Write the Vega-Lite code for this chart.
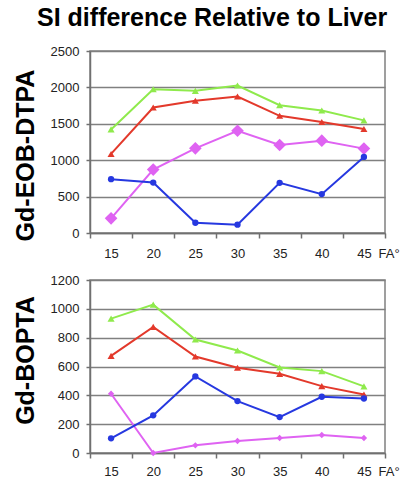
{
  "$schema": "https://vega.github.io/schema/vega-lite/v6.json",
  "background": "white",
  "padding": {"left": 12, "top": 6, "right": 0, "bottom": 0},
  "title": {"text": "SI difference Relative to Liver", "fontSize": 25, "font": "Liberation Sans", "fontWeight": "bold", "color": "#000", "anchor": "middle", "offset": 13, "dx": 6},
  "config": {
    "font": "Liberation Sans",
    "view": {"stroke": "#808080", "strokeWidth": 1.5},
    "axis": {"labelFont": "Liberation Sans", "labelFontSize": 13, "labelColor": "#222", "domainColor": "#707070", "domainWidth": 1.5, "tickColor": "#707070", "tickWidth": 1.5, "gridColor": "#808080", "gridOpacity": 1, "gridWidth": 1.5, "titleFont": "Liberation Sans"},
    "concat": {"spacing": 12}
  },
  "datasets": {
    "eob": [
      {"fa": "15", "series": "Series 1", "value": 1423},
      {"fa": "20", "series": "Series 1", "value": 1975},
      {"fa": "25", "series": "Series 1", "value": 1953},
      {"fa": "30", "series": "Series 1", "value": 2026},
      {"fa": "35", "series": "Series 1", "value": 1756},
      {"fa": "40", "series": "Series 1", "value": 1683},
      {"fa": "45", "series": "Series 1", "value": 1547},
      {"fa": "15", "series": "Series 2", "value": 1086},
      {"fa": "20", "series": "Series 2", "value": 1724},
      {"fa": "25", "series": "Series 2", "value": 1816},
      {"fa": "30", "series": "Series 2", "value": 1875},
      {"fa": "35", "series": "Series 2", "value": 1610},
      {"fa": "40", "series": "Series 2", "value": 1524},
      {"fa": "45", "series": "Series 2", "value": 1428},
      {"fa": "15", "series": "Series 3", "value": 201},
      {"fa": "20", "series": "Series 3", "value": 871},
      {"fa": "25", "series": "Series 3", "value": 1163},
      {"fa": "30", "series": "Series 3", "value": 1405},
      {"fa": "35", "series": "Series 3", "value": 1209},
      {"fa": "40", "series": "Series 3", "value": 1268},
      {"fa": "45", "series": "Series 3", "value": 1159},
      {"fa": "15", "series": "Series 4", "value": 739},
      {"fa": "20", "series": "Series 4", "value": 693},
      {"fa": "25", "series": "Series 4", "value": 141},
      {"fa": "30", "series": "Series 4", "value": 114},
      {"fa": "35", "series": "Series 4", "value": 689},
      {"fa": "40", "series": "Series 4", "value": 534},
      {"fa": "45", "series": "Series 4", "value": 1045}
    ],
    "bopta": [
      {"fa": "15", "series": "Series 1", "value": 932},
      {"fa": "20", "series": "Series 1", "value": 1029},
      {"fa": "25", "series": "Series 1", "value": 787},
      {"fa": "30", "series": "Series 1", "value": 711},
      {"fa": "35", "series": "Series 1", "value": 593},
      {"fa": "40", "series": "Series 1", "value": 568},
      {"fa": "45", "series": "Series 1", "value": 462},
      {"fa": "15", "series": "Series 2", "value": 674},
      {"fa": "20", "series": "Series 2", "value": 875},
      {"fa": "25", "series": "Series 2", "value": 669},
      {"fa": "30", "series": "Series 2", "value": 591},
      {"fa": "35", "series": "Series 2", "value": 549},
      {"fa": "40", "series": "Series 2", "value": 464},
      {"fa": "45", "series": "Series 2", "value": 406},
      {"fa": "15", "series": "Series 3", "value": 411},
      {"fa": "20", "series": "Series 3", "value": 0},
      {"fa": "25", "series": "Series 3", "value": 53},
      {"fa": "30", "series": "Series 3", "value": 83},
      {"fa": "35", "series": "Series 3", "value": 104},
      {"fa": "40", "series": "Series 3", "value": 125},
      {"fa": "45", "series": "Series 3", "value": 104},
      {"fa": "15", "series": "Series 4", "value": 102},
      {"fa": "20", "series": "Series 4", "value": 261},
      {"fa": "25", "series": "Series 4", "value": 531},
      {"fa": "30", "series": "Series 4", "value": 360},
      {"fa": "35", "series": "Series 4", "value": 249},
      {"fa": "40", "series": "Series 4", "value": 390},
      {"fa": "45", "series": "Series 4", "value": 378}
    ]
  },
  "vconcat": [
    {
      "width": 295,
      "height": 182,
      "data": {"name": "eob"},
      "encoding": {
        "x": {"field": "fa", "type": "ordinal", "bandPosition": 0.5,
          "scale": {"type": "band", "paddingInner": 0, "paddingOuter": 0},
          "axis": {"title": "FA°", "titleFontSize": 13, "titleFontWeight": "normal", "titleColor": "#222", "titleAngle": 0, "titleAlign": "left", "titleBaseline": "alphabetic", "titleX": 288, "titleY": 24, "labelAngle": 0, "tickBand": "extent", "tickSize": 5, "labelPadding": 9, "grid": false}},
        "y": {"field": "value", "type": "quantitative",
          "scale": {"domain": [0, 2500]},
          "axis": {"title": "Gd-EOB-DTPA", "titleFontSize": 25, "titleFontWeight": "bold", "titleColor": "#000", "titlePadding": 12, "titleY": 104, "values": [0, 500, 1000, 1500, 2000, 2500], "format": "d", "grid": true, "tickSize": 4, "labelPadding": 7}},
        "color": {"field": "series", "type": "nominal", "legend": null,
          "scale": {"domain": ["Series 1", "Series 2", "Series 3", "Series 4"], "range": ["#8FEA4C", "#E3392B", "#DF63F2", "#2638E0"]}}
      },
      "layer": [
        {"mark": {"type": "line", "strokeWidth": 2}},
        {"transform": [{"filter": "datum.series === 'Series 1' || datum.series === 'Series 2'"}],
          "mark": {"type": "point", "filled": true, "opacity": 1, "shape": "triangle-up", "size": 50}},
        {"transform": [{"filter": "datum.series === 'Series 3'"}],
          "mark": {"type": "point", "filled": true, "opacity": 1, "shape": "diamond", "size": 160}},
        {"transform": [{"filter": "datum.series === 'Series 4'"}],
          "mark": {"type": "point", "filled": true, "opacity": 1, "shape": "circle", "size": 40}}
      ]
    },
    {
      "width": 295,
      "height": 173,
      "data": {"name": "bopta"},
      "encoding": {
        "x": {"field": "fa", "type": "ordinal", "bandPosition": 0.5,
          "scale": {"type": "band", "paddingInner": 0, "paddingOuter": 0},
          "axis": {"title": "FA°", "titleFontSize": 13, "titleFontWeight": "normal", "titleColor": "#222", "titleAngle": 0, "titleAlign": "left", "titleBaseline": "alphabetic", "titleX": 288, "titleY": 22, "labelAngle": 0, "tickBand": "extent", "tickSize": 5, "labelPadding": 7, "grid": false}},
        "y": {"field": "value", "type": "quantitative",
          "scale": {"domain": [0, 1200]},
          "axis": {"title": "Gd-BOPTA", "titleFontSize": 25, "titleFontWeight": "bold", "titleColor": "#000", "titlePadding": 12, "titleY": 80, "values": [0, 200, 400, 600, 800, 1000, 1200], "format": "d", "grid": true, "tickSize": 4, "labelPadding": 7}},
        "color": {"field": "series", "type": "nominal", "legend": null,
          "scale": {"domain": ["Series 1", "Series 2", "Series 3", "Series 4"], "range": ["#8FEA4C", "#E3392B", "#DF63F2", "#2638E0"]}}
      },
      "layer": [
        {"mark": {"type": "line", "strokeWidth": 2}},
        {"transform": [{"filter": "datum.series === 'Series 1' || datum.series === 'Series 2'"}],
          "mark": {"type": "point", "filled": true, "opacity": 1, "shape": "triangle-up", "size": 50}},
        {"transform": [{"filter": "datum.series === 'Series 3'"}],
          "mark": {"type": "point", "filled": true, "opacity": 1, "shape": "diamond", "size": 40}},
        {"transform": [{"filter": "datum.series === 'Series 4'"}],
          "mark": {"type": "point", "filled": true, "opacity": 1, "shape": "circle", "size": 40}}
      ]
    }
  ],
  "resolve": {"scale": {"color": "independent"}}
}
